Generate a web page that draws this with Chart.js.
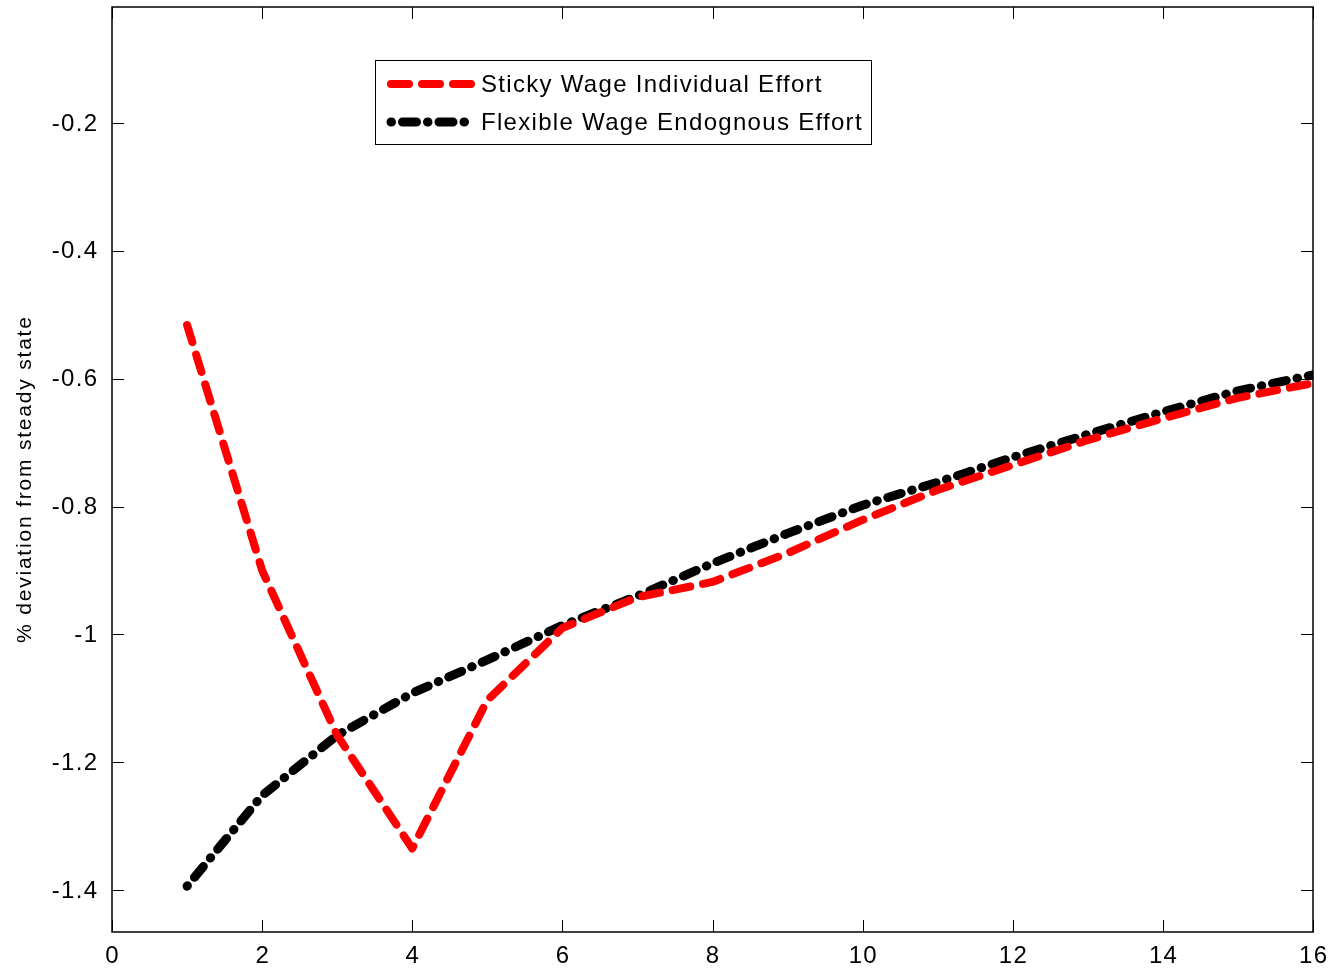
<!DOCTYPE html>
<html>
<head>
<meta charset="utf-8">
<script src="https://cdn.jsdelivr.net/npm/chart.js@4.4.1/dist/chart.umd.min.js"></script>
<style>
  html, body { margin: 0; padding: 0; background: #fff; }
  #wrap { width: 1333px; height: 972px; position: relative; }
</style>
</head>
<body>
<div id="wrap"><canvas id="irf"></canvas></div>
<script>
// Impulse responses, quarters 1..16
const quarters = [1, 2, 3, 4, 5, 6, 7, 8, 9, 10, 11, 12, 13, 14, 15, 16];
const stickyWage = [-0.516, -0.900, -1.158, -1.335, -1.103, -0.990, -0.942, -0.918, -0.873,
                    -0.821, -0.774, -0.735, -0.696, -0.662, -0.630, -0.607];
const flexibleWage = [-1.394, -1.252, -1.158, -1.092, -1.040, -0.986, -0.940, -0.889, -0.842,
                      -0.798, -0.762, -0.723, -0.687, -0.652, -0.619, -0.594];
const xTicks = [0, 2, 4, 6, 8, 10, 12, 14, 16];
const yTicks = [-1.4, -1.2, -1, -0.8, -0.6, -0.4, -0.2];
const yTitle = '% deviation from steady state';

const FONT = '"Liberation Sans", Arial, sans-serif';

const trimNum = v => String(parseFloat(Number(v).toFixed(2)));

// spaced-out text; trailing spacing removed so alignment stays true
function spacedText(ctx, str, x, y, align, spacing) {
  ctx.letterSpacing = spacing + 'px';
  const w = ctx.measureText(str).width - spacing;
  let left = x;
  if (align === 'right') left = x - w;
  else if (align === 'center') left = x - w / 2;
  ctx.textAlign = 'left';
  ctx.fillText(str, left, y);
  ctx.letterSpacing = '0px';
}

// frame with inward ticks on all four sides, plus the axis labels
const boxFrame = {
  id: 'boxFrame',
  afterDatasetsDraw(chart) {
    const { ctx, chartArea: a, scales } = chart;
    const len = 12;
    ctx.save();
    ctx.strokeStyle = '#000';
    ctx.lineWidth = 1.5;
    ctx.strokeRect(a.left, a.top, a.right - a.left, a.bottom - a.top);
    ctx.lineWidth = 1;
    ctx.beginPath();
    xTicks.forEach(v => {
      const px = Math.round(scales.x.getPixelForValue(v)) + 0.5;
      ctx.moveTo(px, a.bottom); ctx.lineTo(px, a.bottom - len);
      ctx.moveTo(px, a.top); ctx.lineTo(px, a.top + len);
    });
    yTicks.forEach(v => {
      const py = Math.round(scales.y.getPixelForValue(v)) + 0.5;
      ctx.moveTo(a.left, py); ctx.lineTo(a.left + len, py);
      ctx.moveTo(a.right, py); ctx.lineTo(a.right - len, py);
    });
    ctx.stroke();

    ctx.fillStyle = '#000';
    ctx.font = '24px ' + FONT;
    ctx.textBaseline = 'middle';
    xTicks.forEach(v => {
      spacedText(ctx, trimNum(v), scales.x.getPixelForValue(v), a.bottom + 24, 'center', 1.3);
    });
    yTicks.forEach(v => {
      spacedText(ctx, trimNum(v), a.left - 15, scales.y.getPixelForValue(v) + 1, 'right', 1.3);
    });

    ctx.save();
    ctx.translate(25, 480);
    ctx.rotate(-Math.PI / 2);
    ctx.font = '21px ' + FONT;
    spacedText(ctx, yTitle, 0, 0, 'center', 1.8);
    ctx.restore();
    ctx.restore();
  }
};

// boxed legend inside the plot
const boxLegend = {
  id: 'boxLegend',
  afterDraw(chart) {
    const { ctx } = chart;
    const x0 = 375, y0 = 60, w = 496, h = 84;
    ctx.save();
    ctx.fillStyle = '#fff';
    ctx.fillRect(x0, y0, w, h);
    ctx.strokeStyle = '#000';
    ctx.lineWidth = 1;
    ctx.strokeRect(x0 + 0.5, y0 + 0.5, w, h);
    chart.data.datasets.forEach((ds, i) => {
      const y = 84 + i * 38;
      ctx.save();
      ctx.strokeStyle = ds.borderColor;
      ctx.lineWidth = ds.borderWidth;
      ctx.lineCap = 'round';
      ctx.setLineDash(ds.borderDash);
      ctx.beginPath();
      ctx.moveTo(391, y);
      ctx.lineTo(471, y);
      ctx.stroke();
      ctx.restore();
      ctx.fillStyle = '#000';
      ctx.font = '24px ' + FONT;
      ctx.textBaseline = 'middle';
      spacedText(ctx, ds.label, 481, y + 1, 'left', 1.3);
    });
    ctx.restore();
  }
};

new Chart(document.getElementById('irf'), {
  type: 'line',
  data: {
    labels: quarters,
    datasets: [
      {
        label: 'Sticky Wage Individual Effort',
        data: quarters.map((q, i) => ({ x: q, y: stickyWage[i] })),
        borderColor: '#ff0000',
        borderWidth: 8,
        borderDash: [18, 13],
        borderCapStyle: 'round',
        borderJoinStyle: 'round',
        pointRadius: 0,
        tension: 0,
        fill: false
      },
      {
        label: 'Flexible Wage Endognous Effort',
        data: quarters.map((q, i) => ({ x: q, y: flexibleWage[i] })),
        borderColor: '#000000',
        borderWidth: 9,
        borderDash: [0.5, 11, 14, 11],
        borderCapStyle: 'round',
        borderJoinStyle: 'round',
        pointRadius: 0,
        tension: 0,
        fill: false
      }
    ]
  },
  options: {
    responsive: true,
    maintainAspectRatio: false,
    animation: false,
    layout: { padding: { left: 0, right: 20, top: 7, bottom: 0 } },
    plugins: { legend: { display: false }, tooltip: { enabled: false } },
    scales: {
      x: {
        type: 'linear',
        min: 0,
        max: 16,
        afterBuildTicks: s => { s.ticks = xTicks.map(v => ({ value: v })); },
        afterFit: s => { s.height = 40; s.paddingLeft = 0; s.paddingRight = 0; },
        grid: { display: false, drawTicks: false },
        border: { display: false },
        ticks: { display: false }
      },
      y: {
        type: 'linear',
        min: -1.4657,
        max: -0.0185,
        afterBuildTicks: s => { s.ticks = yTicks.map(v => ({ value: v })); },
        afterFit: s => { s.width = 112; s.paddingTop = 0; s.paddingBottom = 0; },
        grid: { display: false, drawTicks: false },
        border: { display: false },
        ticks: { display: false }
      }
    }
  },
  plugins: [boxFrame, boxLegend]
});
</script>
</body>
</html>
